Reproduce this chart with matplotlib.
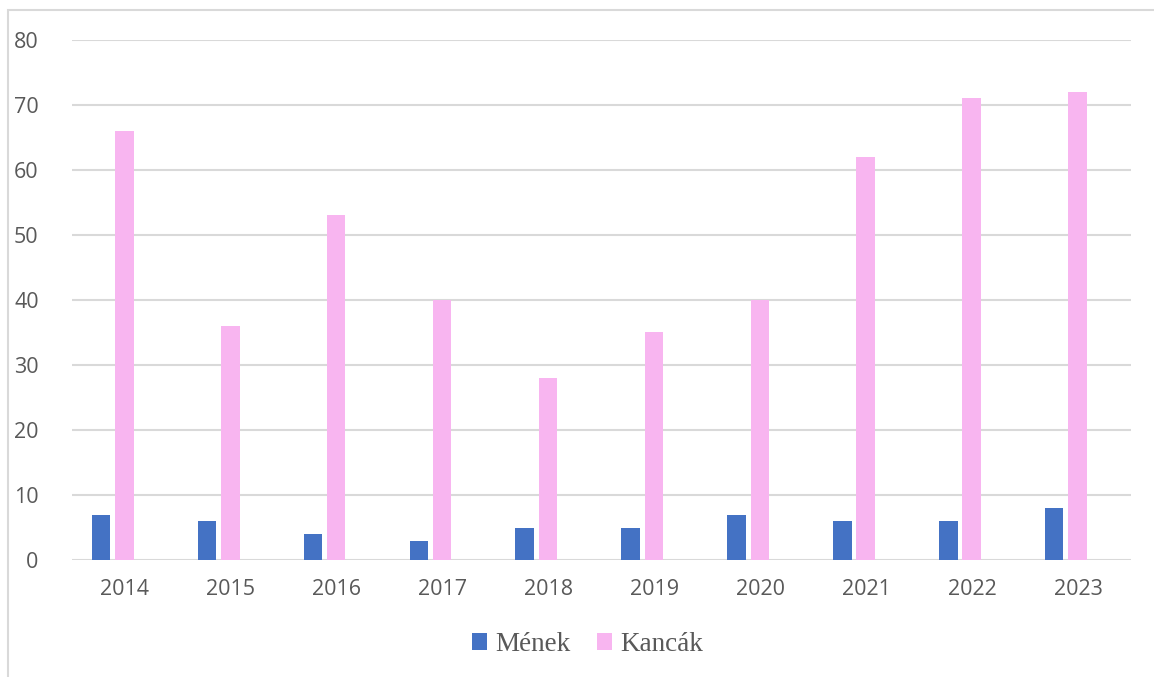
import numpy as np
import matplotlib.pyplot as plt
from matplotlib.patches import Rectangle

years = ['2014', '2015', '2016', '2017', '2018', '2019', '2020', '2021', '2022', '2023']
menek = [7, 6, 4, 3, 5, 5, 7, 6, 6, 8]
kancak = [66, 36, 53, 40, 28, 35, 40, 62, 71, 72]

fig = plt.figure(figsize=(11.54, 6.77), dpi=100)
ax = fig.add_axes([0.0624, 0.1728, 0.9176, 0.7682])

x = np.arange(len(years))
w = 0.175
ax.bar(x - 0.225, menek, width=w, color='#4472C4', label='Mének', zorder=3)
ax.bar(x - 0.005, kancak, width=w, color='#F8B5F0', label='Kancák', zorder=3)

ax.set_xlim(-0.5, len(years) - 0.5)
ax.set_ylim(0, 80)
ax.set_yticks(range(0, 81, 10))
ax.set_xticks(x)
ax.set_xticklabels(years)
ax.grid(axis='y', color='#d9d9d9', linewidth=1.5, zorder=0)
for s in ax.spines.values():
    s.set_visible(False)
ax.tick_params(length=0, labelsize=15.5, labelcolor='#595959', pad=14)
ax.tick_params(axis='y', pad=24)
for lab in ax.get_xticklabels() + ax.get_yticklabels():
    lab.set_family('Open Sans')

leg = fig.legend(loc='center', bbox_to_anchor=(0.509, 0.048), ncol=2, frameon=False,
                 prop={'family': 'Liberation Serif', 'size': 19.5},
                 handlelength=0.55, handleheight=0.55, handletextpad=0.3, columnspacing=1.0)
for t in leg.get_texts():
    t.set_color('#595959')

# outer chart frame (partially cropped in the reference)
fig.patches.append(Rectangle((8 / 1154, -0.1), 1.2, 1 - 10 / 677 + 0.1, transform=fig.transFigure,
                             fill=False, edgecolor='#d9d9d9', linewidth=1.5))

fig.savefig('out.png', dpi=100)
